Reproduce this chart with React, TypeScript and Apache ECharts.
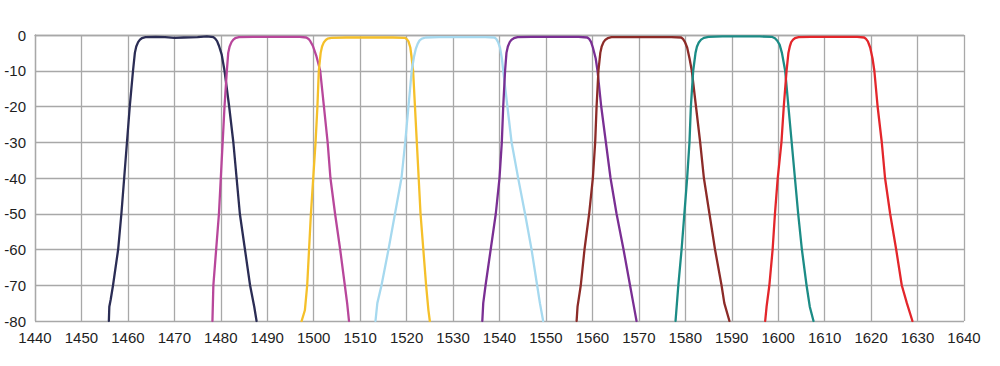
import React, { useEffect, useRef } from "react";
import * as echarts from "echarts";

const xMin = 1440;
const xMax = 1640;
const yMin = -80;
const yMax = 0;

const channelNames = ["1471 nm", "1491 nm", "1511 nm", "1531 nm", "1551 nm", "1571 nm", "1591 nm", "1611 nm"];
const channelColors = ["#2b2d55", "#b8479b", "#f5c02a", "#a6d9ef", "#7a2f93", "#8c2b28", "#1c8c86", "#e3262b"];

const ch1471 = [[1455.9,-80],[1456.0,-76],[1456.3,-74],[1456.8,-70],[1457.9,-60],[1458.6,-50],[1459.2,-40],[1459.8,-30],[1460.4,-20],[1461.1,-10],[1461.5,-5],[1461.8,-3.2],[1462.2,-2],[1462.6,-1.3],[1463.0,-0.9],[1463.8,-0.6],[1466,-0.5],[1468,-0.6],[1470,-0.8],[1472,-0.7],[1475,-0.6],[1477,-0.4],[1478.4,-0.6],[1478.8,-1],[1479.2,-1.7],[1479.6,-3],[1480.2,-5.5],[1480.8,-10],[1481.8,-20],[1482.7,-30],[1483.4,-40],[1484.1,-50],[1485.2,-60],[1486.3,-70],[1487.2,-76],[1487.7,-80]];
const ch1491 = [[1478.2,-80],[1478.4,-70],[1479.0,-60],[1479.6,-50],[1480.0,-40],[1480.4,-30],[1480.8,-20],[1481.3,-10],[1481.6,-5],[1481.9,-3.2],[1482.3,-2],[1482.7,-1.3],[1483.1,-0.9],[1483.9,-0.6],[1487,-0.5],[1492,-0.5],[1497,-0.5],[1498.4,-0.7],[1498.9,-1.1],[1499.3,-1.8],[1499.8,-3],[1500.6,-6],[1501.4,-10],[1502.2,-20],[1503.0,-30],[1503.6,-40],[1504.6,-50],[1505.7,-60],[1506.7,-70],[1507.2,-75],[1507.6,-80]];
const ch1511 = [[1497.4,-80],[1498.1,-77],[1498.6,-70],[1499.0,-60],[1499.4,-50],[1499.9,-40],[1500.4,-30],[1500.8,-20],[1501.1,-10],[1501.5,-5],[1501.8,-3.2],[1502.2,-2],[1502.6,-1.4],[1503.0,-1],[1503.8,-0.8],[1507,-0.7],[1512,-0.7],[1517,-0.7],[1519.6,-0.8],[1520.0,-1.1],[1520.4,-1.8],[1520.8,-3.5],[1521.1,-6.5],[1521.4,-10],[1521.8,-20],[1522.2,-30],[1522.6,-40],[1523.0,-50],[1523.6,-60],[1524.2,-70],[1524.7,-77],[1525.0,-80]];
const ch1531 = [[1513.3,-80],[1513.7,-75],[1514.6,-70],[1516.1,-60],[1517.5,-50],[1518.9,-40],[1519.7,-30],[1520.4,-20],[1521.1,-10],[1521.6,-6],[1522.0,-3.8],[1522.4,-2.4],[1522.8,-1.5],[1523.3,-1],[1524.1,-0.7],[1527,-0.6],[1532,-0.6],[1537,-0.6],[1538.9,-0.7],[1539.3,-1.1],[1539.7,-2],[1540.1,-3.5],[1540.5,-6.5],[1540.8,-10],[1541.7,-20],[1542.6,-30],[1544.1,-40.6],[1545.5,-50],[1546.9,-60],[1548.1,-70],[1548.7,-75],[1549.4,-80]];
const ch1551 = [[1536.3,-80],[1536.5,-75],[1537.0,-70],[1538.1,-60],[1539.2,-50],[1540.0,-40],[1540.5,-30],[1540.8,-20],[1541.2,-10],[1541.5,-5],[1541.8,-3.2],[1542.2,-2],[1542.6,-1.3],[1543.1,-0.9],[1543.9,-0.6],[1547,-0.5],[1552,-0.5],[1557,-0.5],[1558.9,-0.7],[1559.3,-1.1],[1559.7,-1.9],[1560.1,-3.5],[1560.7,-6.5],[1561.1,-10],[1561.9,-20],[1562.9,-30],[1563.9,-40],[1565.2,-50],[1566.7,-60],[1568.1,-70],[1568.8,-75],[1569.5,-80]];
const ch1571 = [[1556.6,-80],[1556.8,-76],[1557.5,-70],[1558.3,-60],[1559.3,-50],[1560.1,-40],[1560.6,-30],[1560.9,-20],[1561.3,-10],[1561.7,-5],[1562.0,-3.2],[1562.4,-2],[1562.8,-1.3],[1563.3,-0.9],[1564.1,-0.6],[1567,-0.6],[1572,-0.6],[1577,-0.6],[1579.1,-0.7],[1579.5,-1.1],[1579.9,-1.9],[1580.4,-3.5],[1580.9,-6.5],[1581.4,-10],[1582.3,-20],[1583.2,-30],[1584.0,-40],[1585.2,-50],[1586.4,-60],[1587.8,-70],[1588.4,-75],[1589.5,-80]];
const ch1591 = [[1577.9,-80],[1578.5,-70],[1579.2,-60],[1579.8,-50],[1580.4,-40],[1580.9,-30],[1581.2,-20],[1581.7,-10],[1582.2,-5],[1582.5,-3.3],[1582.9,-2.1],[1583.4,-1.3],[1584.0,-0.8],[1585.0,-0.5],[1588,-0.4],[1592,-0.4],[1596,-0.4],[1598.6,-0.5],[1599.3,-0.9],[1599.8,-1.6],[1600.3,-2.7],[1600.8,-5],[1601.5,-10],[1602.2,-20],[1602.9,-30],[1603.6,-40],[1604.3,-50],[1605.1,-60],[1606.1,-70],[1606.8,-76],[1607.6,-80]];
const ch1611 = [[1597.2,-80],[1597.5,-76],[1598.1,-70],[1598.8,-60],[1599.3,-50],[1599.9,-40],[1600.7,-30],[1601.2,-20],[1601.8,-10],[1602.2,-5],[1602.5,-3.2],[1602.8,-2],[1603.2,-1.3],[1603.6,-0.9],[1604.4,-0.6],[1607,-0.5],[1612,-0.5],[1617,-0.5],[1618.5,-0.7],[1618.9,-1.1],[1619.3,-1.8],[1619.8,-3.5],[1620.3,-6.5],[1620.7,-10],[1621.4,-20],[1622.3,-30],[1623.0,-40],[1624.1,-50],[1625.4,-60],[1626.6,-70],[1627.7,-75],[1628.9,-80]];

const channelData = [ch1471, ch1491, ch1511, ch1531, ch1551, ch1571, ch1591, ch1611];

export default function App() {
  const ref = useRef<HTMLDivElement>(null);
  useEffect(() => {
    if (!ref.current) return;
    const chart = echarts.init(ref.current, null, { renderer: "svg" });
    const gridColor = "#a8a8a8";
    const labelFont = { color: "#1e1e1e", fontSize: 15, fontFamily: "'Liberation Sans', Arial, sans-serif" };
    chart.setOption({
      animation: false,
      backgroundColor: "#ffffff",
      grid: { left: 35, right: 36, top: 35, bottom: 45, containLabel: false },
      xAxis: {
        type: "value",
        min: xMin,
        max: xMax,
        interval: 10,
        axisLine: { show: true, lineStyle: { color: gridColor, width: 1.3 } },
        axisTick: { show: false },
        splitLine: { show: true, lineStyle: { color: gridColor, width: 1.3 } },
        axisLabel: { ...labelFont, margin: 9, formatter: (v: number) => String(v) },
      },
      yAxis: {
        type: "value",
        min: yMin,
        max: yMax,
        interval: 10,
        axisLine: { show: true, lineStyle: { color: gridColor, width: 1.3 } },
        axisTick: { show: false },
        splitLine: { show: true, lineStyle: { color: gridColor, width: 1.3 } },
        axisLabel: { ...labelFont, margin: 9, formatter: (v: number) => String(v) },
      },
      series: channelData.map((d, i) => ({
        type: "line",
        name: channelNames[i],
        data: d,
        showSymbol: false,
        smooth: false,
        lineStyle: { color: channelColors[i], width: 2.3, join: "round", cap: "round" },
        itemStyle: { color: channelColors[i] },
      })),
    });
    return () => chart.dispose();
  }, []);
  return <div ref={ref} style={{ position: "fixed", left: 0, top: 0, width: 1000, height: 366 }} />;
}
